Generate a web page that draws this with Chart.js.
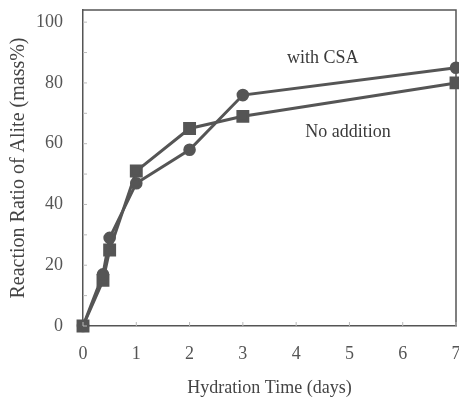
<!DOCTYPE html>
<html>
<head>
<meta charset="utf-8">
<script src="https://cdn.jsdelivr.net/npm/chart.js@4"></script>
<style>
html,body{margin:0;padding:0;background:#fff;}
canvas{display:block;}
</style>
</head>
<body>
<canvas id="c" width="459" height="403"></canvas>
<script>
const hydrationDays = [0, 0.375, 0.5, 1, 2, 3, 7];
const withCSA = [0, 17, 29, 47, 58, 76, 85];
const noAddition = [0, 15, 25, 51, 65, 69, 80];
const xTicks = [0, 1, 2, 3, 4, 5, 6, 7];
const yTicks = [0, 20, 40, 60, 80, 100];
const yMinorTicks = [10, 30, 50, 70, 90];
const seriesLabels = ['with CSA', 'No addition'];

const ink = '#555555';
const font = 'Liberation Serif, Times New Roman, serif';

const toPoints = (xs, ys) => xs.map((x, i) => ({x: x, y: ys[i]}));

function zeroPad(s) {
  s.paddingTop = 0; s.paddingBottom = 0; s.paddingLeft = 0; s.paddingRight = 0;
}

const framePlugin = {
  id: 'frame',
  afterDraw(chart) {
    const {ctx, chartArea: a, scales} = chart;
    ctx.save();
    ctx.strokeStyle = ink;
    ctx.lineWidth = 1.5;
    ctx.beginPath();
    ctx.moveTo(a.left, a.top);
    ctx.lineTo(a.right, a.top);
    ctx.lineTo(a.right, a.bottom);
    ctx.stroke();
    ctx.strokeStyle = '#bbbbbb';
    ctx.lineWidth = 1;
    ctx.beginPath();
    yMinorTicks.concat(yTicks).forEach(v => {
      const y = scales.y.getPixelForValue(v);
      ctx.moveTo(a.left, y); ctx.lineTo(a.left + 4, y);
    });
    xTicks.forEach(v => {
      const x = scales.x.getPixelForValue(v);
      ctx.moveTo(x, a.bottom); ctx.lineTo(x, a.bottom - 4);
    });
    ctx.stroke();
    ctx.fillStyle = '#3a3a3a';
    ctx.font = '18px ' + font;
    ctx.textAlign = 'left';
    ctx.textBaseline = 'middle';
    ctx.fillText(seriesLabels[0], scales.x.getPixelForValue(3.83), scales.y.getPixelForValue(88.2));
    ctx.fillText(seriesLabels[1], scales.x.getPixelForValue(4.17), scales.y.getPixelForValue(63.8));
    ctx.restore();
  }
};

new Chart(document.getElementById('c'), {
  type: 'scatter',
  data: {
    datasets: [
      {
        label: seriesLabels[0],
        data: toPoints(hydrationDays, withCSA),
        showLine: true,
        borderColor: ink,
        backgroundColor: ink,
        borderWidth: 3,
        pointStyle: 'circle',
        pointRadius: 4.8,
        pointHoverRadius: 4.8,
        clip: false
      },
      {
        label: seriesLabels[1],
        data: toPoints(hydrationDays, noAddition),
        showLine: true,
        borderColor: ink,
        backgroundColor: ink,
        borderWidth: 3,
        pointStyle: 'rect',
        pointRadius: 7,
        pointHoverRadius: 7,
        clip: false
      }
    ]
  },
  options: {
    responsive: false,
    animation: false,
    devicePixelRatio: 1,
    layout: {autoPadding: false, padding: {top: 10, right: 3, left: 0, bottom: 0}},
    plugins: {legend: {display: false}, tooltip: {enabled: false}},
    scales: {
      x: {
        type: 'linear',
        min: 0,
        max: 7,
        afterBuildTicks(s) { s.ticks = xTicks.map(v => ({value: v})); },
        afterFit(s) { s.height = 77; zeroPad(s); },
        grid: {drawOnChartArea: false, drawTicks: false},
        border: {color: ink, width: 1.5},
        ticks: {color: '#555', font: {family: font, size: 18}, padding: 17},
        title: {
          display: true,
          text: 'Hydration Time (days)',
          color: '#444',
          font: {family: font, size: 18},
          padding: {top: 4, bottom: 4}
        }
      },
      y: {
        type: 'linear',
        min: 0,
        max: 104,
        afterBuildTicks(s) { s.ticks = yTicks.map(v => ({value: v})); },
        afterFit(s) { s.width = 83; zeroPad(s); },
        grid: {drawOnChartArea: false, drawTicks: false},
        border: {color: ink, width: 1.5},
        ticks: {color: '#555', font: {family: font, size: 18}, padding: 20},
        title: {
          display: true,
          text: 'Reaction Ratio of Alite (mass%)',
          color: '#444',
          font: {family: font, size: 20},
          padding: {top: 7, bottom: 7}
        }
      }
    }
  },
  plugins: [framePlugin]
});
</script>
</body>
</html>
